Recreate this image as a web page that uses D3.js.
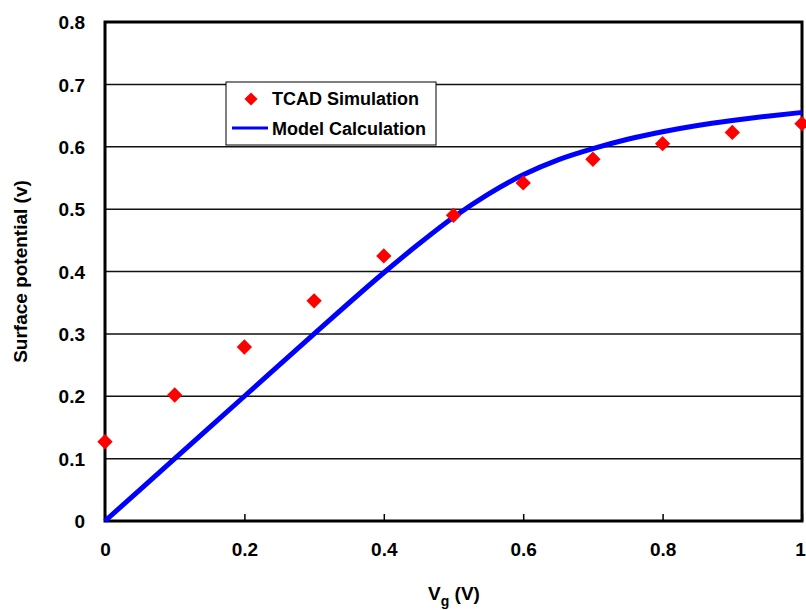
<!DOCTYPE html>
<html lang="en">
<head>
<meta charset="UTF-8">
<script src="https://cdn.jsdelivr.net/npm/d3@7"></script>
<style>
  body { margin: 0; background: #fff; }
  text { font-family: "Liberation Sans", Arial, sans-serif; font-weight: bold; fill: #000; }
</style>
</head>
<body>
<div id="fig"></div>
<script>
// TCAD simulation points
const tcadVg = [0, 0.1, 0.2, 0.3, 0.4, 0.5, 0.6, 0.7, 0.8, 0.9, 1.0];
const tcadPsi = [0.127, 0.202, 0.279, 0.353, 0.425, 0.490, 0.542, 0.580, 0.605, 0.623, 0.637];

// model curve
const modelVg = [0, 0.1, 0.2, 0.3, 0.4, 0.45, 0.5, 0.55, 0.6, 0.65, 0.7, 0.75, 0.8, 0.85, 0.9, 0.95, 1.0];
const modelPsi = [0, 0.1, 0.2, 0.3, 0.398, 0.444, 0.487, 0.524, 0.555, 0.579, 0.597, 0.612, 0.624, 0.634, 0.642, 0.649, 0.655];

const xTicks = [0, 0.2, 0.4, 0.6, 0.8, 1];
const yTicks = [0, 0.1, 0.2, 0.3, 0.4, 0.5, 0.6, 0.7, 0.8];

const width = 806, height = 610;
const margin = {left: 105, right: 4, top: 22, bottom: 89};

const svg = d3.select("#fig").append("svg")
    .attr("width", width)
    .attr("height", height);

const x = d3.scaleLinear().domain([0, 1]).range([margin.left, width - margin.right]);
const y = d3.scaleLinear().domain([0, 0.8]).range([height - margin.bottom, margin.top]);

// gridlines
svg.append("g")
    .selectAll("line")
    .data(yTicks.slice(1, -1))
    .join("line")
    .attr("x1", x(0)).attr("x2", x(1))
    .attr("y1", d => y(d)).attr("y2", d => y(d))
    .attr("stroke", "#111")
    .attr("stroke-width", 1.5);

// y axis labels
svg.append("g")
    .attr("transform", `translate(${x(0)},0)`)
    .call(d3.axisLeft(y).tickValues(yTicks).tickSize(0).tickPadding(20).tickFormat(d => d === 0 ? "0" : d3.format(".1f")(d)))
    .call(g => g.select(".domain").remove())
    .call(g => g.selectAll("text").style("font-size", "19px").attr("dy", "0.35em"));

// x axis
svg.append("g")
    .attr("transform", `translate(0,${y(0)})`)
    .call(d3.axisBottom(x).tickValues(xTicks).tickSize(-7).tickPadding(22).tickFormat(d => d === 0 || d === 1 ? String(d) : d3.format(".1f")(d)))
    .call(g => g.select(".domain").remove())
    .call(g => g.selectAll("line").attr("stroke", "#000").attr("stroke-width", 1.5))
    .call(g => g.selectAll("text").style("font-size", "19px").attr("dx", d => d === 1 ? -2 : 0));

// plot frame
svg.append("rect")
    .attr("x", x(0)).attr("y", y(0.8))
    .attr("width", x(1) - x(0)).attr("height", y(0) - y(0.8))
    .attr("fill", "none")
    .attr("stroke", "#000")
    .attr("stroke-width", 3);

// model line
const line = d3.line().x(d => x(d[0])).y(d => y(d[1])).curve(d3.curveMonotoneX);
svg.append("path")
    .datum(modelVg.map((v, i) => [v, modelPsi[i]]))
    .attr("d", line)
    .attr("fill", "none")
    .attr("stroke", "#0000ff")
    .attr("stroke-width", 5);

// tcad markers
const diamond = d3.symbol().type(d3.symbolDiamond2).size(150);
svg.append("g")
    .selectAll("path")
    .data(tcadVg.map((v, i) => [v, tcadPsi[i]]))
    .join("path")
    .attr("transform", d => `translate(${x(d[0])},${y(d[1])})`)
    .attr("d", diamond)
    .attr("fill", "#ff0000");

// legend
const lg = svg.append("g").attr("transform", "translate(226,82)");
lg.append("rect")
    .attr("width", 210).attr("height", 63)
    .attr("fill", "#fff")
    .attr("stroke", "#000")
    .attr("stroke-width", 1);
lg.append("path")
    .attr("transform", "translate(25,17)")
    .attr("d", d3.symbol().type(d3.symbolDiamond2).size(110))
    .attr("fill", "#ff0000");
lg.append("text").attr("x", 46).attr("y", 17).attr("dy", "0.35em")
    .style("font-size", "18px").text("TCAD Simulation");
lg.append("line")
    .attr("x1", 6).attr("x2", 42).attr("y1", 46).attr("y2", 46)
    .attr("stroke", "#0000ff").attr("stroke-width", 3);
lg.append("text").attr("x", 46).attr("y", 47).attr("dy", "0.35em")
    .style("font-size", "18px").text("Model Calculation");

// axis titles
const xt = svg.append("text")
    .attr("x", 454).attr("y", 600)
    .attr("text-anchor", "middle")
    .style("font-size", "19px");
xt.append("tspan").text("V");
xt.append("tspan").attr("dy", 6).style("font-size", "14px").text("g");
xt.append("tspan").attr("dy", -6).text(" (V)");

svg.append("text")
    .attr("transform", `translate(27,${(y(0) + y(0.8)) / 2}) rotate(-90)`)
    .attr("text-anchor", "middle")
    .style("font-size", "19px")
    .text("Surface potential (v)");
</script>
</body>
</html>
